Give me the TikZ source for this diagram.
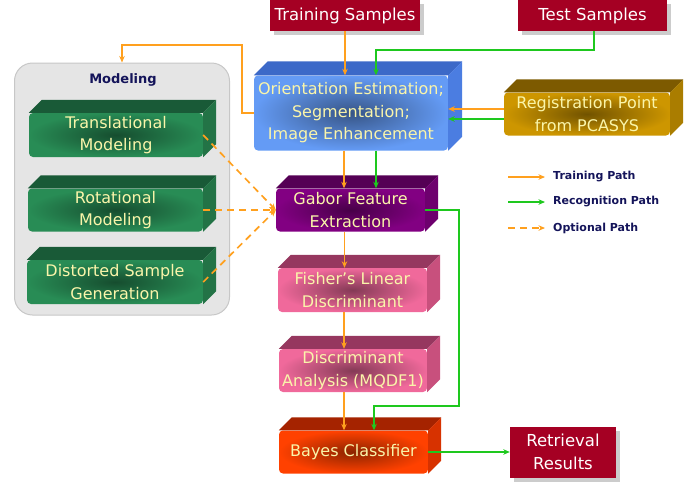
\documentclass[tikz,border=0pt]{standalone}
\usepackage{fontspec}
\setmainfont{DejaVu Sans}
\usetikzlibrary{arrows.meta,calc,shadows}
\definecolor{crim}{RGB}{165,0,35}
\definecolor{oarr}{RGB}{255,160,30}
\definecolor{garr}{RGB}{30,200,30}
\definecolor{navy}{RGB}{20,20,90}
\definecolor{txty}{RGB}{250,245,170}
\definecolor{blueF}{RGB}{100,155,245}\definecolor{blueT}{RGB}{60,105,200}\definecolor{blueS}{RGB}{75,125,225}
\definecolor{grnF}{RGB}{40,140,85}\definecolor{grnT}{RGB}{25,90,55}\definecolor{grnS}{RGB}{35,115,70}
\definecolor{gldF}{RGB}{205,150,0}\definecolor{gldT}{RGB}{125,90,0}\definecolor{gldS}{RGB}{170,125,0}
\definecolor{purF}{RGB}{130,0,130}\definecolor{purT}{RGB}{85,0,85}\definecolor{purS}{RGB}{110,0,110}
\definecolor{pnkF}{RGB}{240,105,155}\definecolor{pnkT}{RGB}{150,55,95}\definecolor{pnkS}{RGB}{200,80,125}
\definecolor{bayF}{RGB}{255,65,0}\definecolor{bayT}{RGB}{165,35,0}\definecolor{bayS}{RGB}{215,50,0}
\newcommand\extr[4]{%
  \fill[#3] (#1.north west) -- ++(#2,-#2) -- ($(#1.north east)+(#2,-#2)$) -- (#1.north east) -- cycle;
  \fill[#4] (#1.north east) -- ++(#2,-#2) -- ($(#1.south east)+(#2,-#2)$) -- (#1.south east) -- cycle;}
\begin{document}
\begin{tikzpicture}[x=1pt,y=-1pt,
  face/.style={text=txty, font=\fontsize{16}{22.5}\selectfont, align=center, inner sep=0pt, rounded corners=4pt},
  shadef/.style={shade, inner color=#1!55!black, outer color=#1},
  redbox/.style={fill=crim, text=white, align=center, font=\fontsize{16.5}{23}\selectfont, inner sep=0pt,
     drop shadow={shadow xshift=4pt, shadow yshift=-4pt, fill=black!40}},
  oa/.style={draw=oarr, line width=1.7pt, -{Stealth[length=6.5pt,width=5.5pt]}},
  ga/.style={draw=garr, line width=1.7pt, -{Stealth[length=6.5pt,width=5.5pt]}},
  od/.style={oa, dash pattern=on 7pt off 5pt},
  legtext/.style={anchor=west, text=navy, font=\bfseries\fontsize{11}{13}\selectfont, inner sep=0pt}]
\useasboundingbox (0,0) rectangle (698,482);
% modeling container
\node[draw=black!22, fill=black!10, rounded corners=18pt, minimum width=215pt, minimum height=252pt, line width=1pt] (model) at (122,189) {};
\node[text=navy, font=\bfseries\fontsize{13}{15}\selectfont] (mtitle) at (123,80) {Modeling};
% red boxes
\node[redbox, minimum width=150pt, minimum height=31pt] (train) at (345,15.5) {Training Samples};
\node[redbox, minimum width=149pt, minimum height=31pt] (test) at (592.5,15.5) {Test Samples};
\node[redbox, minimum width=106pt, minimum height=51pt] (retr) at (563,452) {Retrieval\\Results};
% 3d boxes
\node[face, shadef=blueF, minimum width=194pt, minimum height=75pt] (orient) at (351,113) {Orientation Estimation;\\Segmentation;\\Image Enhancement};
\extr{orient}{14}{blueT}{blueS}
\node[face, shadef=gldF, minimum width=166pt, minimum height=43pt] (reg) at (587,114) {Registration Point\\from PCASYS};
\extr{reg}{13}{gldT}{gldS}
\node[face, shadef=purF, minimum width=149pt, minimum height=43pt] (gabor) at (350.5,210) {Gabor Feature\\Extraction};
\extr{gabor}{13}{purT}{purS}
\node[face, shadef=pnkF, minimum width=149pt, minimum height=44pt] (fisher) at (352.5,290) {Fisher’s Linear\\Discriminant};
\extr{fisher}{13}{pnkT}{pnkS}
\node[face, shadef=pnkF, minimum width=148pt, minimum height=43pt] (mqdf) at (353,370.5) {Discriminant\\Analysis (MQDF1)};
\extr{mqdf}{13}{pnkT}{pnkS}
\node[face, shadef=bayF, minimum width=149pt, minimum height=43pt] (bayes) at (353.5,452) {Bayes Classifier};
\extr{bayes}{13}{bayT}{bayS}
\node[face, shadef=grnF, minimum width=174pt, minimum height=44pt] (trans) at (116,135) {Translational\\Modeling};
\extr{trans}{13}{grnT}{grnS}
\node[face, shadef=grnF, minimum width=175pt, minimum height=43pt] (rot) at (115.5,210) {Rotational\\Modeling};
\extr{rot}{13}{grnT}{grnS}
\node[face, shadef=grnF, minimum width=176pt, minimum height=44pt] (dist) at (115,282) {Distorted Sample\\Generation};
\extr{dist}{13}{grnT}{grnS}
% connectors
\coordinate (m1) at (242,45);
\coordinate (t1) at (594,50);
\coordinate (g1) at (459,406);
\draw[oa] (train.south) -- (train.south |- orient.north);
\draw[ga] (test.south -| t1) -- (t1) -| ([xshift=25pt]orient.north);
\draw[oa] (orient.west) -| (m1) -| (model.north);
\draw[oa] ([yshift=5pt]reg.west) -- ([yshift=5pt]reg.west -| orient.east);
\draw[ga] ([yshift=-5pt]reg.west) -- ([yshift=-5pt]reg.west -| orient.east);
\draw[oa] ([xshift=-7pt]orient.south) -- ([xshift=-7pt]orient.south |- gabor.north);
\draw[ga] ([xshift=25pt]orient.south) -- ([xshift=25pt]orient.south |- gabor.north);
\draw[od] (trans.east) -- (gabor.west);
\draw[od] (rot.east) -- (gabor.west);
\draw[od] (dist.east) -- (gabor.west);
\draw[oa] ([xshift=-6pt]gabor.south) -- ([xshift=-6pt]gabor.south |- fisher.north);
\draw[oa] ([xshift=-8.5pt]fisher.south) -- ([xshift=-8.5pt]fisher.south |- mqdf.north);
\draw[oa] ([xshift=-9pt]mqdf.south) -- ([xshift=-9pt]mqdf.south |- bayes.north);
\draw[ga] (gabor.east) -| (g1) -| ([xshift=20.5pt]bayes.north);
\draw[ga] (bayes.east) -- (retr.west);
% legend
\coordinate (l1a) at (508,177); \coordinate (l1b) at (545,177);
\coordinate (l2a) at (508,202); \coordinate (l2b) at (545,202);
\coordinate (l3a) at (508,228); \coordinate (l3b) at (545,228);
\draw[oa] (l1a) -- (l1b);
\draw[ga] (l2a) -- (l2b);
\draw[od] (l3a) -- (l3b);
\node[legtext] (lt1) at (553,177) {Training Path};
\node[legtext] (lt2) at (553,202) {Recognition Path};
\node[legtext] (lt3) at (553,228) {Optional Path};
\end{tikzpicture}
\end{document}
